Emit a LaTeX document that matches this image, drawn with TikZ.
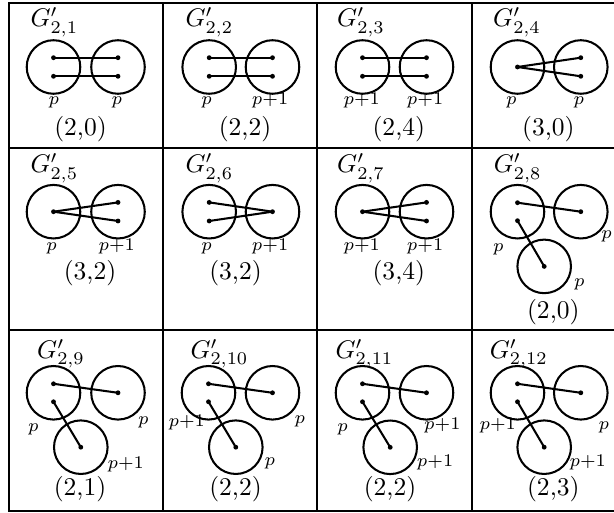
\documentclass[tikz,border=0pt]{standalone}
\tikzset{
  vert/.style={circle, draw, line width=0.8pt, minimum size=21pt, inner sep=0pt},
  dot/.style={circle, fill, minimum size=1.9pt, inner sep=0pt},
  edge/.style={line width=0.8pt},
  gridline/.style={line width=0.8pt},
  lab/.style={anchor=base, inner sep=0pt},
  big/.style={anchor=base, inner sep=0pt},
  gl/.style={anchor=base west, inner sep=0pt}
}
% two circles, two parallel edges
\newcommand\cellPar[4]{%
  \node[vert] (#1L) at (#2,#4) {};
  \node[vert] (#1R) at (#3,#4) {};
  \node[dot] (#1a) at (#2,#4-9.3) {};
  \node[dot] (#1b) at (#2,#4+9.3) {};
  \node[dot] (#1c) at (#3,#4-9.3) {};
  \node[dot] (#1d) at (#3,#4+9.3) {};
  \draw[edge] (#1a.center) -- (#1c.center);
  \draw[edge] (#1b.center) -- (#1d.center);
}
% left single vertex, right two vertices
\newcommand\cellFan[4]{%
  \node[vert] (#1L) at (#2,#4) {};
  \node[vert] (#1R) at (#3,#4) {};
  \node[dot] (#1a) at (#2,#4) {};
  \node[dot] (#1c) at (#3,#4-9.3) {};
  \node[dot] (#1d) at (#3,#4+9.3) {};
  \draw[edge] (#1a.center) -- (#1c.center);
  \draw[edge] (#1a.center) -- (#1d.center);
}
% left two vertices, right single vertex
\newcommand\cellRev[4]{%
  \node[vert] (#1L) at (#2,#4) {};
  \node[vert] (#1R) at (#3,#4) {};
  \node[dot] (#1a) at (#2,#4-9.3) {};
  \node[dot] (#1b) at (#2,#4+9.3) {};
  \node[dot] (#1c) at (#3,#4) {};
  \draw[edge] (#1a.center) -- (#1c.center);
  \draw[edge] (#1b.center) -- (#1c.center);
}
% three circles
\newcommand\cellTri[6]{% id, xUL, xUR, y, xB, yB
  \node[vert] (#1L) at (#2,#4) {};
  \node[vert] (#1R) at (#3,#4) {};
  \node[vert] (#1B) at (#5,#6) {};
  \node[dot] (#1a) at (#2,#4-9) {};
  \node[dot] (#1b) at (#2,#4+9) {};
  \node[dot] (#1c) at (#3,#4) {};
  \node[dot] (#1e) at (#5,#6) {};
  \draw[edge] (#1a.center) -- (#1c.center);
  \draw[edge] (#1b.center) -- (#1e.center);
}
\begin{document}
\begin{tikzpicture}[x=0.392pt, y=-0.392pt]
\useasboundingbox (0,0) rectangle (614,513);
% grid
\draw[gridline] (614,3) -- (9,3) -- (9,511) -- (614,511);
\draw[gridline] (9,148) -- (614,148);
\draw[gridline] (9,330) -- (614,330);
\draw[gridline] (163,3) -- (163,511);
\draw[gridline] (317,3) -- (317,511);
\draw[gridline] (472,3) -- (472,511);

% ---------- row 1 ----------
\node[gl] (g1) at (30,27) {$G'_{2,1}$};
\cellPar{c1}{53.5}{118}{67}
\node[lab] (l1a) at (54,105) {$\scriptstyle p$};
\node[lab] (l1b) at (117,105) {$\scriptstyle p$};
\node[big] (t1) at (80.5,136) {(2,0)};

\node[gl] (g2) at (185,27) {$G'_{2,2}$};
\cellPar{c2}{209.2}{272.5}{67}
\node[lab] (l2a) at (206.7,105) {$\scriptstyle p$};
\node[lab] (l2b) at (270,105) {$\scriptstyle p+1$};
\node[big] (t2) at (245,136) {(2,2)};

\node[gl] (g3) at (336.7,27) {$G'_{2,3}$};
\cellPar{c3}{362.5}{426.5}{67}
\node[lab] (l3a) at (361.7,105) {$\scriptstyle p+1$};
\node[lab] (l3b) at (425,105) {$\scriptstyle p+1$};
\node[big] (t3) at (398.8,136) {(2,4)};

\node[gl] (g4) at (492.7,27) {$G'_{2,4}$};
\cellFan{c4}{517.5}{580.8}{67}
\node[lab] (l4a) at (511.5,105) {$\scriptstyle p$};
\node[lab] (l4b) at (579,105) {$\scriptstyle p$};
\node[big] (t4) at (548.3,136) {(3,0)};

% ---------- row 2 ----------
\node[gl] (g5) at (30,172.7) {$G'_{2,5}$};
\cellFan{c5}{53.5}{118}{211.7}
\node[lab] (l5a) at (51.7,250.5) {$\scriptstyle p$};
\node[lab] (l5b) at (116.7,250.5) {$\scriptstyle p+1$};
\node[big] (t5) at (90,280) {(3,2)};

\node[gl] (g6) at (185,172.7) {$G'_{2,6}$};
\cellRev{c6}{209.2}{272.5}{211.7}
\node[lab] (l6a) at (206.7,250.5) {$\scriptstyle p$};
\node[lab] (l6b) at (270,250.5) {$\scriptstyle p+1$};
\node[big] (t6) at (235.5,280) {(3,2)};

\node[gl] (g7) at (336.7,172.7) {$G'_{2,7}$};
\cellFan{c7}{362.5}{426.5}{211.7}
\node[lab] (l7a) at (361.7,250.5) {$\scriptstyle p+1$};
\node[lab] (l7b) at (425,250.5) {$\scriptstyle p+1$};
\node[big] (t7) at (398.8,280) {(3,4)};

\node[gl] (g8) at (493.3,172.7) {$G'_{2,8}$};
\cellTri{c8}{517.5}{580.8}{211.7}{544.2}{266.4}
\node[lab] (l8a) at (498.3,252) {$\scriptstyle p$};
\node[lab] (l8b) at (606.7,239) {$\scriptstyle p$};
\node[lab] (l8c) at (579.3,287) {$\scriptstyle p$};
\node[big] (t8) at (553.3,319) {(2,0)};

% ---------- row 3 ----------
\node[gl] (g9) at (36.7,358.3) {$G'_{2,9}$};
\cellTri{c9}{53.5}{118}{392.8}{80.8}{447.2}
\node[lab] (l9a) at (33.3,432) {$\scriptstyle p$};
\node[lab] (l9b) at (143.3,424.5) {$\scriptstyle p$};
\node[lab] (l9c) at (125.7,468.5) {$\scriptstyle p+1$};
\node[big] (t9) at (80,496) {(2,1)};

\node[gl] (g10) at (190,358.3) {$G'_{2,10}$};
\cellTri{c10}{208.5}{272.5}{392.8}{235.8}{447.2}
\node[lab] (l10a) at (186.7,427) {$\scriptstyle p+1$};
\node[lab] (l10b) at (300,424) {$\scriptstyle p$};
\node[lab] (l10c) at (270,465.5) {$\scriptstyle p$};
\node[big] (t10) at (235.5,496) {(2,2)};

\node[gl] (g11) at (335,358.3) {$G'_{2,11}$};
\cellTri{c11}{362.5}{426.5}{392.8}{390.2}{447.3}
\node[lab] (l11a) at (342.7,432) {$\scriptstyle p$};
\node[lab] (l11b) at (442.3,430) {$\scriptstyle p+1$};
\node[lab] (l11c) at (435,467) {$\scriptstyle p+1$};
\node[big] (t11) at (390,496) {(2,2)};

\node[gl] (g12) at (489.3,358.3) {$G'_{2,12}$};
\cellTri{c12}{517.5}{580.8}{392.8}{544.2}{447.2}
\node[lab] (l12a) at (497.7,430) {$\scriptstyle p+1$};
\node[lab] (l12b) at (604,430) {$\scriptstyle p$};
\node[lab] (l12c) at (587.7,467) {$\scriptstyle p+1$};
\node[big] (t12) at (553.3,496) {(2,3)};
\end{tikzpicture}
\end{document}
